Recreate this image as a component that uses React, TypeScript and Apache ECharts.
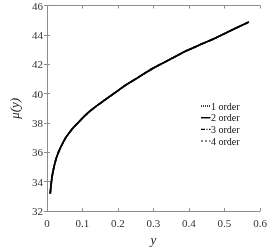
import React, { useEffect, useRef } from "react";
import * as echarts from "echarts";

const yValues = [0.0095, 0.012, 0.015, 0.0185, 0.024, 0.03, 0.037, 0.044, 0.053, 0.062, 0.075, 0.089, 0.105, 0.125, 0.145, 0.165, 0.194, 0.22, 0.248, 0.275, 0.302, 0.33, 0.356, 0.383, 0.41, 0.44, 0.474, 0.52, 0.5687];
const muValues = [33.2, 33.85, 34.4, 34.85, 35.4, 35.85, 36.25, 36.6, 37.0, 37.3, 37.7, 38.05, 38.45, 38.88, 39.25, 39.6, 40.1, 40.55, 40.97, 41.38, 41.77, 42.12, 42.45, 42.8, 43.1, 43.42, 43.78, 44.32, 44.88];
const seriesNames = ["1 order", "2 order", "3 order", "4 order"];
const xTicks = [0, 0.1, 0.2, 0.3, 0.4, 0.5, 0.6];
const yTicks = [32, 34, 36, 38, 40, 42, 44, 46];

export default function App() {
  const ref = useRef<HTMLDivElement>(null);
  useEffect(() => {
    if (!ref.current) return;
    const chart = echarts.init(ref.current, null, { renderer: "svg" });
    const data = yValues.map((v, i) => [v, muValues[i]]);
    const font = "Liberation Serif, Times New Roman, serif";
    const dashes: any[] = [[1, 1], null, [4, 1.5, 1, 1.5], [2, 2]];
    const widths = [1.6, 1.8, 1.6, 1.2];
    const lineStyles: any[] = [
      { type: [1, 1], width: 1.6 },
      { type: "solid", width: 1.8 },
      { type: [4, 1.5, 1, 1.5], width: 1.6 },
      { type: [2, 2], width: 1.2 },
    ];
    const legendY = [106, 117.7, 129.4, 141];
    const legendGraphics: any[] = [];
    seriesNames.forEach((name, i) => {
      legendGraphics.push({
        type: "line",
        shape: { x1: 201, y1: legendY[i], x2: 210.5, y2: legendY[i] },
        style: { stroke: "#000", lineWidth: widths[i] * 0.8, lineDash: dashes[i] || undefined },
        z: 100,
      });
      legendGraphics.push({
        type: "text",
        x: 211,
        y: legendY[i],
        style: { text: name, fontFamily: font, fontSize: 10, fill: "#111", textVerticalAlign: "middle", verticalAlign: "middle" },
        z: 100,
      });
    });
    const axisLine = { show: true, lineStyle: { color: "#8c8c8c", width: 1 } };
    const axisTick = { show: true, inside: true, length: 3, lineStyle: { color: "#8c8c8c" } };
    chart.setOption({
      animation: false,
      grid: { left: 38.5, right: 13, top: 5, bottom: 36, containLabel: false },
      graphic: legendGraphics,
      xAxis: [
        {
          type: "value",
          min: xTicks[0],
          max: xTicks[xTicks.length - 1],
          interval: 0.1,
          axisLine,
          axisTick,
          splitLine: { show: false },
          axisLabel: {
            fontFamily: font,
            fontSize: 11,
            color: "#333",
            margin: 6,
            formatter: (v: number) => (v === 0 ? "0" : v.toFixed(1)),
          },
          name: "y",
          nameLocation: "middle",
          nameGap: 17,
          nameTextStyle: { fontFamily: font, fontStyle: "italic", fontSize: 13, color: "#222" },
        },
        {
          type: "value",
          position: "top",
          min: 0,
          max: 0.6,
          interval: 0.1,
          axisLine,
          axisTick,
          axisLabel: { show: false },
          splitLine: { show: false },
        },
      ],
      yAxis: [
        {
          type: "value",
          min: yTicks[0],
          max: yTicks[yTicks.length - 1],
          interval: 2,
          axisLine,
          axisTick,
          splitLine: { show: false },
          axisLabel: { fontFamily: font, fontSize: 11, color: "#333", margin: 4 },
          name: "μ(y)",
          nameLocation: "middle",
          nameGap: 24,
          nameRotate: 90,
          nameTextStyle: { fontFamily: font, fontStyle: "italic", fontSize: 13, color: "#222" },
        },
        {
          type: "value",
          position: "right",
          min: 32,
          max: 46,
          interval: 2,
          axisLine,
          axisTick,
          axisLabel: { show: false },
          splitLine: { show: false },
        },
      ],
      series: seriesNames.map((name, i) => ({
        name,
        type: "line",
        data,
        smooth: true,
        symbol: "none",
        showSymbol: false,
        lineStyle: { color: "#000", ...lineStyles[i] },
        z: 2 + i,
      })),
    });
    return () => chart.dispose();
  }, []);
  return <div ref={ref} style={{ position: "fixed", left: 0, top: 0, width: 273, height: 251 }} />;
}
